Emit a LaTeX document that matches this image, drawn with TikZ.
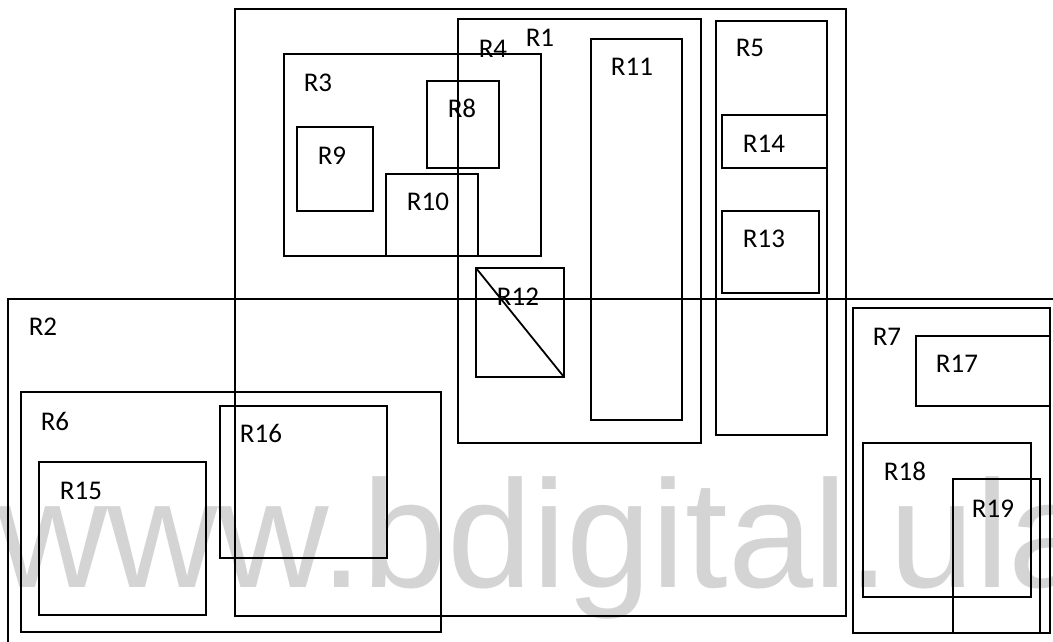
\documentclass[tikz,border=0pt]{standalone}
\usepackage{fontspec}
\setmainfont{Carlito}
\newfontfamily\wmfont{Liberation Sans}
\definecolor{wmgray}{RGB}{212,212,212}
\tikzset{
  rbox/.style={draw=black, line width=1.8pt},
  lbl/.style={font=\fontsize{27}{27}\selectfont, inner sep=0pt, anchor=center},
}
\begin{document}
\begin{tikzpicture}[x=1pt, y=-1pt]
  \clip (0,0) rectangle (1053,641);
  \fill[white] (0,0) rectangle (1053,641);
  % watermark
  \node[text=wmgray, font=\wmfont\fontsize{153}{153}\selectfont, anchor=base west, inner sep=0pt]
    (wm) at (-3,587) {www.bdigital.ula};
  % regions
  \foreach \xa/\ya/\xb/\yb in {235/9/846/616, 458/19/701/443, 284/54/541/256,
      427/81/499/168, 297/127/373/211, 386/174/478/256, 476/268/564/377,
      591/39/682/420, 716/21/827/435, 722/115/827/168, 722/211/819/293,
      8/299/1070/660, 21/392/441/632, 39/462/206/615, 220/406/387/558,
      853/308/1050/633, 916/336/1050/406, 863/443/1031/597, 953/479/1040/633}
    \draw[rbox] (\xa,\ya) rectangle (\xb,\yb);
  \draw[rbox] (476,268) -- (564,377);
  % labels
  \foreach \nm/\x/\y in {R1/540/38, R4/493/49, R3/318/83, R8/462/108, R9/332/156,
      R10/428/202, R12/518/297, R11/632/67, R5/750/48, R14/764/144, R13/764/239,
      R2/43/327, R6/55/421, R15/81/491, R16/261/433, R7/887/337, R17/957/364,
      R18/905/471, R19/993/509}
    \node[lbl] (\nm) at (\x,\y) {\nm};
\end{tikzpicture}
\end{document}
